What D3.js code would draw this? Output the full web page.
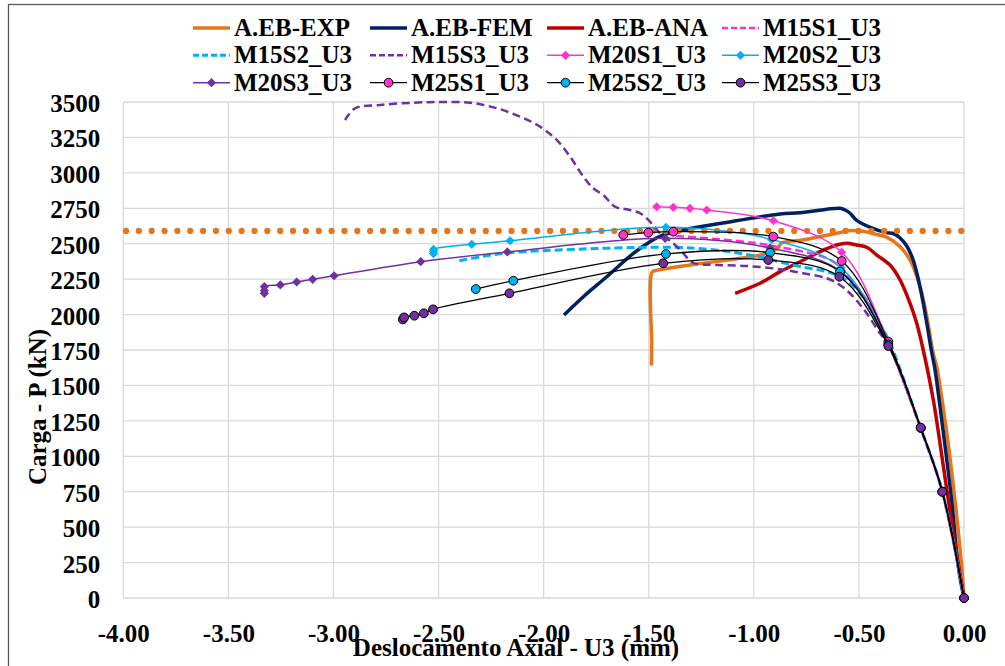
<!DOCTYPE html>
<html>
<head>
<meta charset="utf-8">
<script src="https://cdn.jsdelivr.net/npm/d3@7"></script>
<style>
    body { margin: 0; background: #fff; }
    svg text {
        font-family: "Liberation Serif", "Times New Roman", serif;
        font-weight: bold;
        font-size: 25px;
        fill: #000;
    }
</style>
</head>
<body>
<div id="chart"></div>
<script>
"use strict";

// axis ticks
var xTicks = [-4, -3.5, -3, -2.5, -2, -1.5, -1, -0.5, 0];
var yTicks = [0, 250, 500, 750, 1000, 1250, 1500, 1750, 2000, 2250, 2500, 2750, 3000, 3250, 3500];

// horizontal reference load (dotted orange)
var refLoad = 2590;

// series: [U3 (mm), P (kN)]
var ebExp = [[-1.487, 1640], [-1.486, 1800], [-1.484, 2300], [-1.465, 2311], [-1.304, 2350], [-1.066, 2397],
    [-0.937, 2432], [-0.885, 2470], [-0.868, 2505], [-0.768, 2526], [-0.600, 2575], [-0.550, 2592],
    [-0.483, 2588], [-0.415, 2565], [-0.366, 2545], [-0.304, 2479], [-0.257, 2385], [-0.209, 2197],
    [-0.177, 1985], [-0.147, 1729], [-0.130, 1632], [-0.082, 1164], [-0.043, 692], [-0.011, 221], [0, 0]];

var ebFem = [[-1.903, 1997], [-1.811, 2126], [-1.700, 2267], [-1.573, 2432], [-1.494, 2514], [-1.431, 2562],
    [-1.335, 2597], [-1.147, 2646], [-0.875, 2710], [-0.780, 2719], [-0.590, 2750], [-0.566, 2738],
    [-0.542, 2715], [-0.512, 2667], [-0.440, 2612], [-0.370, 2578], [-0.336, 2572], [-0.304, 2540],
    [-0.271, 2480], [-0.243, 2390], [-0.219, 2260], [-0.195, 2090], [-0.176, 1930], [-0.152, 1720],
    [-0.140, 1630], [-0.098, 1164], [-0.059, 692], [-0.027, 221], [0, 0]];

var ebAna = [[-1.089, 2150], [-0.971, 2221], [-0.875, 2303], [-0.780, 2373], [-0.685, 2444], [-0.606, 2491],
    [-0.558, 2503], [-0.510, 2491], [-0.463, 2475], [-0.415, 2420], [-0.352, 2350], [-0.304, 2244],
    [-0.257, 2080], [-0.225, 1938], [-0.194, 1750], [-0.146, 1397], [-0.098, 927], [-0.051, 457], [0, 0]];

var m15s1 = [[-1.37, 2555], [-1.256, 2543], [-1.004, 2507], [-0.875, 2475], [-0.766, 2444], [-0.652, 2397],
    [-0.590, 2338], [-0.509, 2197], [-0.414, 1985], [-0.360, 1800], [-0.206, 1200], [-0.103, 750], [0, 0]];

var m15s2 = [[-2.401, 2380], [-2.303, 2408], [-2.160, 2437], [-1.906, 2457], [-1.700, 2468], [-1.383, 2475],
    [-1.193, 2457], [-1.066, 2432], [-0.939, 2397], [-0.875, 2371], [-0.765, 2334], [-0.653, 2303],
    [-0.574, 2256], [-0.510, 2173], [-0.447, 2056], [-0.384, 1891], [-0.352, 1800], [-0.206, 1200],
    [-0.103, 750], [0, 0]];

var m15s3 = [[-2.945, 3373], [-2.897, 3456], [-2.778, 3479], [-2.620, 3495], [-2.493, 3500], [-2.350, 3495],
    [-2.223, 3456], [-2.112, 3397], [-2.017, 3326], [-1.938, 3232], [-1.874, 3114], [-1.811, 2973],
    [-1.764, 2891], [-1.716, 2844], [-1.660, 2761], [-1.589, 2738], [-1.541, 2715], [-1.494, 2656],
    [-1.446, 2574], [-1.383, 2503], [-1.335, 2432], [-1.304, 2380], [-1.272, 2357], [-1.176, 2350],
    [-1.034, 2343], [-0.875, 2320], [-0.765, 2291], [-0.653, 2256], [-0.590, 2209], [-0.527, 2126],
    [-0.463, 2009], [-0.400, 1868], [-0.360, 1790], [-0.206, 1195], [-0.103, 748], [0, 0]];

var m20s1 = [[-1.462, 2761], [-1.383, 2757], [-1.304, 2750], [-1.224, 2738], [-0.907, 2662], [-0.582, 2440],
    [-0.360, 1806], [-0.206, 1202], [-0.103, 750], [0, 0]];

var m20s2 = [[-2.524, 2430], [-2.524, 2445], [-2.524, 2460], [-2.342, 2496], [-2.160, 2521], [-1.418, 2616],
    [-0.915, 2530], [-0.585, 2330], [-0.360, 1795], [-0.206, 1200], [-0.103, 750], [0, 0]];

var m20s3 = [[-3.329, 2150], [-3.329, 2170], [-3.329, 2197], [-3.253, 2209], [-3.175, 2230], [-3.099, 2249],
    [-2.997, 2274], [-2.585, 2373], [-2.173, 2442], [-1.422, 2538], [-0.923, 2470], [-0.582, 2300],
    [-0.360, 1790], [-0.206, 1200], [-0.103, 750], [0, 0]];

var m25s1 = [[-1.621, 2562], [-1.502, 2578], [-1.383, 2585], [-0.907, 2550], [-0.582, 2378], [-0.360, 1809],
    [-0.206, 1202], [-0.103, 750], [0, 0]];

var m25s2 = [[-2.323, 2180], [-2.144, 2239], [-1.418, 2428], [-0.923, 2437], [-0.590, 2303], [-0.360, 1790],
    [-0.206, 1200], [-0.103, 750], [0, 0]];

var m25s3 = [[-2.670, 1966], [-2.664, 1980], [-2.615, 1992], [-2.570, 2009], [-2.526, 2037], [-2.163, 2150],
    [-1.431, 2362], [-0.931, 2385], [-0.593, 2267], [-0.360, 1778], [-0.206, 1202], [-0.103, 750], [0, 0]];

var seriesNames = ["A.EB-EXP", "A.EB-FEM", "A.EB-ANA", "M15S1_U3", "M15S2_U3", "M15S3_U3",
    "M20S1_U3", "M20S2_U3", "M20S3_U3", "M25S1_U3", "M25S2_U3", "M25S3_U3"];
var seriesValues = [ebExp, ebFem, ebAna, m15s1, m15s2, m15s3, m20s1, m20s2, m20s3, m25s1, m25s2, m25s3];

// colours
var orange = "#E8751A", navy = "#002060", red = "#C00000",
    pink = "#FF33CC", cyan = "#00B0F0", purple = "#7030A0";

// look of each series
var styles = {
    "A.EB-EXP": { stroke: orange, width: 3.5 },
    "A.EB-FEM": { stroke: navy, width: 3.5 },
    "A.EB-ANA": { stroke: red, width: 3.5 },
    "M15S1_U3": { stroke: pink, width: 2.5, dash: "8,4" },
    "M15S2_U3": { stroke: cyan, width: 3, dash: "8,4" },
    "M15S3_U3": { stroke: purple, width: 2.5, dash: "8,4.5" },
    "M20S1_U3": { stroke: pink, width: 1.5, marker: "diamond", fill: pink },
    "M20S2_U3": { stroke: cyan, width: 1.5, marker: "diamond", fill: cyan },
    "M20S3_U3": { stroke: purple, width: 1.5, marker: "diamond", fill: purple },
    "M25S1_U3": { stroke: "#000", width: 1.3, marker: "circle", fill: pink },
    "M25S2_U3": { stroke: "#000", width: 1.3, marker: "circle", fill: cyan },
    "M25S3_U3": { stroke: "#000", width: 1.3, marker: "circle", fill: purple }
};

var series = seriesNames.map((name, i) => ({ name: name, values: seriesValues[i], style: styles[name] }));

var W = 1005, H = 666;
var margin = { top: 102, right: 41, bottom: 68, left: 123.3 };

var svg = d3.select("#chart")
    .append("svg")
    .attr("width", W)
    .attr("height", H);

// outer chart border (cut off at the right and bottom)
svg.append("rect")
    .attr("x", 8.5)
    .attr("y", 4.5)
    .attr("width", 1200)
    .attr("height", 800)
    .attr("fill", "none")
    .attr("stroke", "#5a5a5a")
    .attr("stroke-width", 1.3);

// scales
var x = d3.scaleLinear()
    .domain([-4, 0])
    .range([margin.left, W - margin.right]);

var y = d3.scaleLinear()
    .domain([0, 3500])
    .range([H - margin.bottom, margin.top]);

// gridlines
svg.append("g")
    .selectAll("line")
    .data(yTicks)
    .join("line")
    .attr("x1", x(-4))
    .attr("x2", x(0))
    .attr("y1", d => y(d))
    .attr("y2", d => y(d))
    .attr("stroke", "#d9d9d9")
    .attr("stroke-width", 1.3);

svg.append("g")
    .selectAll("line")
    .data(xTicks)
    .join("line")
    .attr("x1", d => x(d))
    .attr("x2", d => x(d))
    .attr("y1", y(0))
    .attr("y2", y(3500))
    .attr("stroke", "#d9d9d9")
    .attr("stroke-width", 1.3);

// axes (labels only)
var xAxis = svg.append("g")
    .attr("transform", `translate(0,${y(0)})`)
    .call(d3.axisBottom(x).tickValues(xTicks).tickSize(0).tickPadding(26).tickFormat(d => d.toFixed(2)));
xAxis.select(".domain").remove();

var yAxis = svg.append("g")
    .attr("transform", `translate(${x(-4)},0)`)
    .call(d3.axisLeft(y).tickValues(yTicks).tickSize(0).tickPadding(23).tickFormat(d => d));
yAxis.select(".domain").remove();

svg.selectAll(".tick text")
    .attr("font-family", null)
    .attr("font-size", null)
    .attr("fill", null);
yAxis.selectAll(".tick text").attr("dy", "0.38em");

// axis titles
svg.append("text")
    .attr("text-anchor", "middle")
    .attr("x", 516)
    .attr("y", 656)
    .text("Deslocamento Axial - U3 (mm)");

svg.append("text")
    .attr("text-anchor", "middle")
    .attr("transform", "translate(46,407) rotate(-90)")
    .text("Carga - P (kN)");

// generators
var line = d3.line()
    .x(d => x(d[0]))
    .y(d => y(d[1]))
    .curve(d3.curveCatmullRom.alpha(0.5));

function diamondPath(r) {
    return `M0,${-r}L${r},0L0,${r}L${-r},0Z`;
}

function drawMarkers(g, s, pts) {
    if (s.marker === "diamond") {
        g.selectAll("path.mk")
            .data(pts)
            .join("path")
            .attr("class", "mk")
            .attr("d", diamondPath(4.6))
            .attr("transform", d => `translate(${d[0]},${d[1]})`)
            .attr("fill", s.fill);
    } else if (s.marker === "circle") {
        g.selectAll("circle.mk")
            .data(pts)
            .join("circle")
            .attr("class", "mk")
            .attr("cx", d => d[0])
            .attr("cy", d => d[1])
            .attr("r", 4.4)
            .attr("fill", s.fill)
            .attr("stroke", "#000")
            .attr("stroke-width", 1);
    }
}

var plot = svg.append("g");

function drawSeries(d) {
    var g = plot.append("g");
    g.append("path")
        .datum(d.values)
        .attr("fill", "none")
        .attr("stroke", d.style.stroke)
        .attr("stroke-width", d.style.width)
        .attr("stroke-dasharray", d.style.dash || null)
        .attr("stroke-linejoin", "round")
        .attr("d", line);
    drawMarkers(g, d.style, d.values.map(p => [x(p[0]), y(p[1])]));
}

// the three A.EB curves, then the dotted reference, then the models on top
series.slice(0, 3).forEach(drawSeries);

plot.append("line")
    .attr("x1", x(-4) + 2.7)
    .attr("x2", x(0))
    .attr("y1", y(refLoad))
    .attr("y2", y(refLoad))
    .attr("stroke", orange)
    .attr("stroke-width", 6.2)
    .attr("stroke-linecap", "round")
    .attr("stroke-dasharray", "0,12.85");

series.slice(3).forEach(drawSeries);

// legend: 4 columns x 3 rows
var legendCols = [193, 370, 547, 722];
var legendRows = [36, 63.3, 90.7];

var legend = svg.append("g")
    .selectAll("g")
    .data(series)
    .join("g")
    .attr("transform", (d, i) => `translate(${legendCols[i % 4]},${legendRows[Math.floor(i / 4)]})`);

legend.append("line")
    .attr("x1", 0)
    .attr("x2", 37)
    .attr("y1", -8)
    .attr("y2", -8)
    .attr("stroke", d => d.style.stroke)
    .attr("stroke-width", d => d.style.width)
    .attr("stroke-dasharray", d => d.style.dash ? "6,3" : null);

legend.each(function (d) {
    drawMarkers(d3.select(this), d.style, [[18.5, -8]]);
});

legend.append("text")
    .attr("x", 41)
    .attr("y", 0)
    .text(d => d.name);
</script>
</body>
</html>
